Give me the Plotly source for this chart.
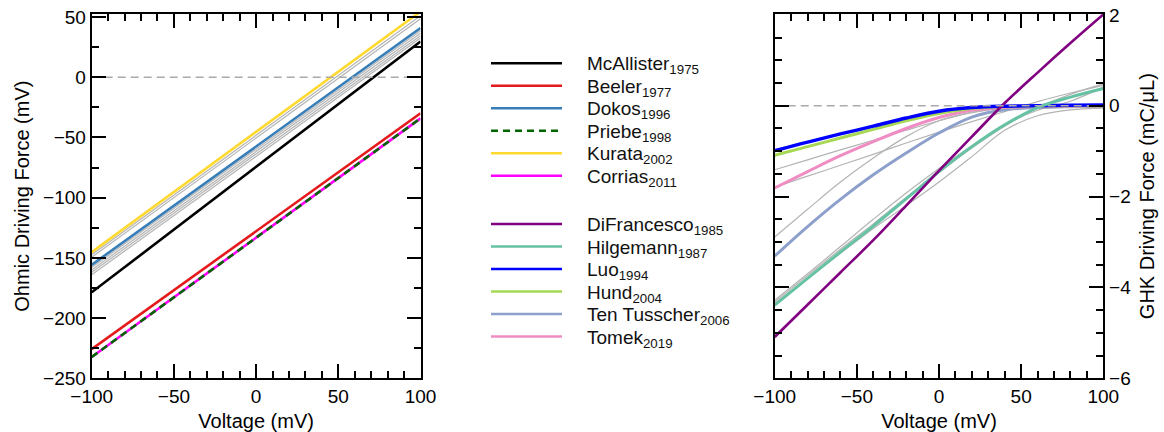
import plotly.graph_objects as go

# ---------------- data ----------------
# Ohmic driving force (V - E) for each model, sampled at the ends of the voltage range
ohm_v = [-100, 100]
ohm_mcallister = [-178.6, 29.7]
ohm_beeler = [-225.8, -30.0]
ohm_dokos = [-155.8, 40.8]
ohm_priebe = [-232.3, -34.2]
ohm_kurata = [-145.3, 54.5]
ohm_corrias = [-232.3, -34.2]
# other models (background)
ohm_other = [
    [-147.5, 51.0],
    [-149.5, 48.5],
    [-158.0, 38.5],
    [-160.0, 36.5],
    [-162.0, 34.5],
    [-164.0, 32.5],
]

# GHK driving force (mC/uL)
ghk_v = [-100, -80, -60, -40, -20, 0, 20, 40, 60, 80, 100]
ghk_difrancesco = [-5.09, -4.38, -3.67, -2.96, -2.20, -1.43, -0.68, 0.06, 0.73, 1.38, 2.01]
ghk_hilgemann = [-4.39, -3.80, -3.22, -2.65, -2.05, -1.45, -0.90, -0.42, -0.04, 0.19, 0.38]
ghk_luo = [-0.99, -0.80, -0.62, -0.45, -0.27, -0.12, -0.04, -0.01, 0.00, 0.01, 0.02]
ghk_hund = [-1.09, -0.90, -0.71, -0.52, -0.33, -0.17, -0.06, -0.02, -0.01, 0.00, 0.00]
ghk_tentusscher = [-3.31, -2.66, -2.06, -1.52, -1.04, -0.60, -0.25, -0.09, -0.04, -0.02, -0.01]
ghk_tomek = [-1.81, -1.45, -1.10, -0.79, -0.50, -0.26, -0.10, -0.04, -0.02, -0.01, 0.00]
# other models (background)
ghk_other = [
    [-0.97, -0.80, -0.63, -0.46, -0.30, -0.15, -0.05, -0.01, 0.00, 0.01, 0.02],
    [-1.41, -1.19, -0.97, -0.76, -0.54, -0.33, -0.15, -0.05, -0.01, 0.00, 0.01],
    [-1.79, -1.55, -1.31, -1.07, -0.82, -0.58, -0.35, -0.13, 0.09, 0.28, 0.45],
    [-2.89, -2.28, -1.68, -1.15, -0.68, -0.33, -0.14, -0.05, -0.02, -0.01, 0.00],
    [-4.32, -3.74, -3.16, -2.60, -2.02, -1.47, -0.93, -0.45, -0.05, 0.25, 0.48],
    [-4.36, -3.80, -3.25, -2.70, -2.20, -1.68, -1.12, -0.54, -0.22, -0.09, -0.05],
    [-4.28, -3.70, -3.10, -2.50, -1.92, -1.38, -0.88, -0.42, -0.10, 0.10, 0.41],
]

ohm_names = ["McAllister", "Beeler", "Dokos", "Priebe", "Kurata", "Corrias"]
ohm_years = ["1975", "1977", "1996", "1998", "2002", "2011"]
ohm_colors = ["#000000", "#e41a1c", "#377eb8", "#006400", "#ffd92f", "#ff00ff"]
ohm_dashes = ["solid", "solid", "solid", "7px,5px", "solid", "solid"]
ohm_series = [ohm_mcallister, ohm_beeler, ohm_dokos, ohm_priebe, ohm_kurata, ohm_corrias]

ghk_names = ["DiFrancesco", "Hilgemann", "Luo", "Hund", "Ten Tusscher", "Tomek"]
ghk_years = ["1985", "1987", "1994", "2004", "2006", "2019"]
ghk_colors = ["#800080", "#66c2a5", "#0000ff", "#a6d854", "#8da0cb", "#f08cc4"]
ghk_widths = [2.6, 3, 3.4, 3, 3, 3]
ghk_series = [ghk_difrancesco, ghk_hilgemann, ghk_luo, ghk_hund, ghk_tentusscher, ghk_tomek]

GREY = "#b4b4b4"
FONT = "Liberation Sans, Arial, sans-serif"

fig = go.Figure()

# ---------------- left panel: Ohmic ----------------
for ys in ohm_other:
    fig.add_trace(go.Scatter(x=ohm_v, y=ys, mode="lines", line=dict(color=GREY, width=1.2),
                             showlegend=False, hoverinfo="skip", xaxis="x", yaxis="y"))
# draw order: Corrias underneath the dashed Priebe line
for i in [0, 1, 2, 4, 5, 3]:
    fig.add_trace(go.Scatter(x=ohm_v, y=ohm_series[i], mode="lines", name=ohm_names[i],
                             line=dict(color=ohm_colors[i], width=2.6, dash=ohm_dashes[i]),
                             showlegend=False, xaxis="x", yaxis="y"))
fig.add_trace(go.Scatter(x=[-100, 100], y=[0, 0], mode="lines",
                         line=dict(color="#aaaaaa", width=1.3, dash="8px,5px"),
                         showlegend=False, hoverinfo="skip", xaxis="x", yaxis="y"))

# ---------------- right panel: GHK ----------------
for ys in ghk_other:
    fig.add_trace(go.Scatter(x=ghk_v, y=ys, mode="lines", line=dict(color=GREY, width=1.2, shape="spline"),
                             showlegend=False, hoverinfo="skip", xaxis="x2", yaxis="y2"))
for i in [4, 5, 3, 2, 1, 0]:
    fig.add_trace(go.Scatter(x=ghk_v, y=ghk_series[i], mode="lines", name=ghk_names[i],
                             line=dict(color=ghk_colors[i], width=ghk_widths[i], shape="spline"),
                             showlegend=False, xaxis="x2", yaxis="y2"))
fig.add_trace(go.Scatter(x=[-100, 100], y=[0, 0], mode="lines",
                         line=dict(color="#aaaaaa", width=1.3, dash="8px,5px"),
                         showlegend=False, hoverinfo="skip", xaxis="x2", yaxis="y2"))

# ---------------- legend (own hidden axes, pixel-like units) ----------------
ROW = 22.5
rows = [63.3 + ROW * i for i in range(6)] + [224.0 + ROW * i for i in range(6)]
leg_names = ohm_names + ghk_names
leg_years = ohm_years + ghk_years
leg_colors = ohm_colors + ghk_colors
leg_dashes = ohm_dashes + ["solid"] * 6
for name, year, col, dash, yy in zip(leg_names, leg_years, leg_colors, leg_dashes, rows):
    fig.add_trace(go.Scatter(x=[11, 82], y=[yy, yy], mode="lines",
                             line=dict(color=col, width=2.6, dash=dash),
                             showlegend=False, hoverinfo="skip", xaxis="x3", yaxis="y3"))
    fig.add_annotation(x=105, y=yy, xref="x3", yref="y3", xanchor="left", yanchor="middle",
                       text=f"{name}<sub>{year}</sub>", showarrow=False, yshift=-2,
                       font=dict(family=FONT, size=19, color="#111111"))

W, H = 1164, 432
x1d = [91.7 / W, 420.5 / W]
x2d = [774.7 / W, 1103.3 / W]
yd = [1 - 378.3 / H, 1 - 14.0 / H]

axis_common = dict(
    showgrid=False, zeroline=False, showline=True, linecolor="black", linewidth=2,
    mirror="ticks", ticks="inside", ticklen=14, tickwidth=1.5, tickcolor="black",
    tickfont=dict(family=FONT, size=19, color="black"), automargin=False,
)
xaxis_common = dict(axis_common, range=[-100, 100], tickvals=[-100, -50, 0, 50, 100],
                    ticktext=["\u2212100", "\u221250", "0", "50", "100"],
                    minor=dict(dtick=10, ticks="inside", ticklen=7, tickwidth=1.5, tickcolor="black"),
                    title=dict(text="Voltage (mV)", font=dict(family=FONT, size=20, color="black"), standoff=10))

fig.update_layout(
    width=W, height=H, margin=dict(l=0, r=0, t=0, b=0, autoexpand=False),
    paper_bgcolor="white", plot_bgcolor="white", showlegend=False,
    xaxis=dict(xaxis_common, domain=x1d, anchor="y"),
    yaxis=dict(axis_common, domain=yd, anchor="x", range=[-250, 52.5],
               tickvals=[-250, -200, -150, -100, -50, 0, 50],
               ticktext=["\u2212250", "\u2212200", "\u2212150", "\u2212100", "\u221250", "0", "50"],
               minor=dict(dtick=25, ticks="inside", ticklen=7, tickwidth=1.5, tickcolor="black"),
               title=dict(text="Ohmic Driving Force (mV)", font=dict(family=FONT, size=20, color="black"), standoff=8)),
    xaxis2=dict(xaxis_common, domain=x2d, anchor="y2"),
    yaxis2=dict(axis_common, domain=yd, anchor="x2", side="right", range=[-6, 2.02],
                tickvals=[-6, -4, -2, 0, 2], ticktext=["\u22126", "\u22124", "\u22122", "0", "2"],
                minor=dict(dtick=0.5, ticks="inside", ticklen=7, tickwidth=1.5, tickcolor="black"),
                title=dict(text="GHK Driving Force (mC/\u03bcL)", font=dict(family=FONT, size=20, color="black"), standoff=10)),
    xaxis3=dict(domain=[480 / W, 760 / W], range=[0, 280], visible=False, anchor="y3"),
    yaxis3=dict(domain=[0, 1], range=[H, 0], visible=False, anchor="x3"),
)

fig.write_html("out.html")
